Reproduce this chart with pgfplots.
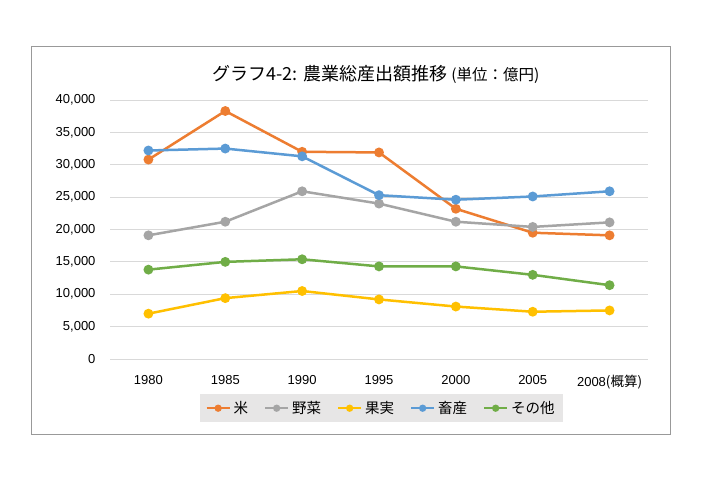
\documentclass[border=0pt]{standalone}
\usepackage{fontspec}
\setmainfont{Liberation Sans}
\newfontfamily\jp{Noto Sans CJK JP}
\usepackage{pgfplots}
\pgfplotsset{compat=1.18}

\definecolor{cRice}{HTML}{ED7D31}
\definecolor{cVeg}{HTML}{A5A5A5}
\definecolor{cFruit}{HTML}{FFC000}
\definecolor{cLive}{HTML}{5B9BD5}
\definecolor{cOther}{HTML}{70AD47}
\definecolor{cGrid}{HTML}{D9D9D9}
\definecolor{cLegend}{HTML}{E7E6E6}

\begin{document}
\begin{tikzpicture}
% page area and outer frame
\fill[white] (-110pt,-125pt) rectangle (591pt,359pt);
\path[use as bounding box] (-110pt,-125pt) rectangle (591pt,359pt);
\draw[black!40, line width=1pt] (-78pt,-76pt) rectangle (560pt,312pt);

% the plot area spans 538pt for 7 categories; its data origin (x=0) sits half a slot in
\begin{axis}[
  at={(38.43pt,0pt)}, anchor=origin,
  scale only axis,
  width=538pt, height=259pt,
  xmin=-0.5, xmax=6.5,
  ymin=0, ymax=40000,
  xtick={0,1,2,3,4,5,6},
  xticklabels={1980,1985,1990,1995,2000,2005,{2008{\jp\fontsize{13.5}{15}\selectfont (概算)}}},
  ytick={0,5000,10000,15000,20000,25000,30000,35000,40000},
  scaled y ticks=false,
  /pgf/number format/assume math mode=true,
  yticklabel style={/pgf/number format/1000 sep={,}, xshift=-11pt},
  xticklabel style={yshift=-13pt},
  tick label style={font=\fontsize{13}{15}\selectfont},
  major tick length=0pt,
  axis line style={draw=none},
  ymajorgrids,
  grid style={cGrid, line width=0.8pt},
  every axis plot/.append style={line width=2.5pt, mark=*, mark size=3.6pt, mark options={solid}},
  legend columns=5,
  legend style={
    at={(0.504,-0.19)}, anchor=center,
    fill=cLegend, draw=none,
    font=\jp\fontsize{14.5}{17}\selectfont,
    inner xsep=6pt, inner ysep=5pt,
    /tikz/every odd column/.append style={column sep=1pt},
    /tikz/every even column/.append style={column sep=14pt},
  },
  legend image code/.code={
    \draw[mark repeat=2, mark phase=2, line width=2pt, mark size=2.6pt]
      plot coordinates {(0pt,0pt) (11.5pt,0pt) (23pt,0pt)};
  },
]
\addplot[color=cRice] coordinates {(0,30800) (1,38300) (2,32000) (3,31900) (4,23200) (5,19500) (6,19100)};
\addlegendentry{米}
\addplot[color=cVeg] coordinates {(0,19100) (1,21200) (2,25900) (3,24000) (4,21200) (5,20400) (6,21100)};
\addlegendentry{野菜}
\addplot[color=cFruit] coordinates {(0,7000) (1,9400) (2,10500) (3,9200) (4,8100) (5,7300) (6,7500)};
\addlegendentry{果実}
\addplot[color=cLive] coordinates {(0,32200) (1,32500) (2,31300) (3,25300) (4,24600) (5,25100) (6,25900)};
\addlegendentry{畜産}
\addplot[color=cOther] coordinates {(0,13800) (1,15000) (2,15400) (3,14300) (4,14300) (5,13000) (6,11400)};
\addlegendentry{その他}
\end{axis}

% chart title
\node[anchor=base] at (266pt,278pt) {\jp\fontsize{18}{21}\selectfont グラフ4-2: 農業総産出額推移 {\fontsize{15.5}{18}\selectfont (単位：億円)}};
\end{tikzpicture}
\end{document}
